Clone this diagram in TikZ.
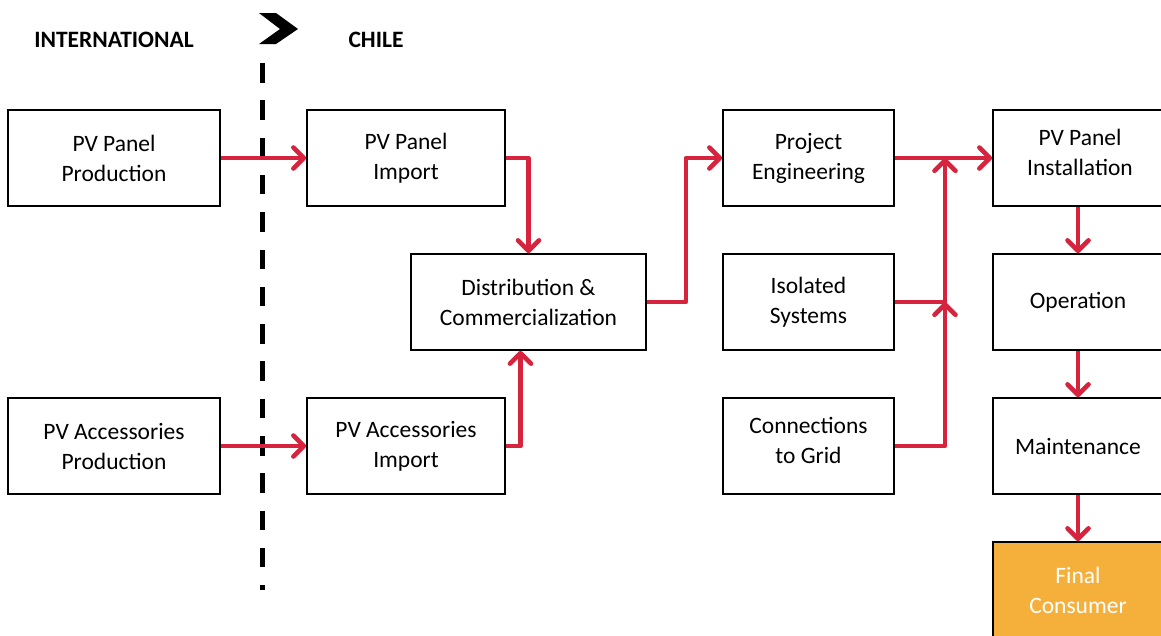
\documentclass[tikz,border=0pt]{standalone}
\usepackage{fontspec}
\setmainfont{Carlito}
\usetikzlibrary{arrows.meta}
\definecolor{arr}{HTML}{D6243F}
\definecolor{fc}{HTML}{F5B03C}
\begin{document}
\begin{tikzpicture}[x=1pt,y=-1pt,
  box/.style={draw, line width=1.7pt, inner sep=0pt, align=center,
    font=\fontsize{23.5}{30}\selectfont},
  lbl/.style={inner sep=0pt, align=center, font=\fontsize{23.5}{30}\selectfont},
  head/.style={inner sep=0pt, font=\fontsize{23.5}{26}\selectfont\bfseries},
  flow/.style={draw=arr, line width=4.6pt, line join=round,
    -{Straight Barb[length=10.5pt,width=21pt,round]}},
]
\useasboundingbox (0,0) rectangle (1161,635);
% headers
\node[head] (intl) at (114,40) {INTERNATIONAL};
\node[head] (chile) at (376,40) {CHILE};
% border marker
\fill (259,13) -- (276,13) -- (298,29) -- (276,44) -- (259,44) -- (280,29) -- cycle;
\draw[line width=5pt, dash pattern=on 19.5pt off 17.8pt] (262,63) -- (262,590);
% boxes
\node[box, minimum width=212pt, minimum height=96pt] (ppp) at (114,158) {PV Panel\\Production};
\node[box, minimum width=212pt, minimum height=96pt] (pap) at (114,446) {PV Accessories\\Production};
\node[box, minimum width=198pt, minimum height=96pt] (ppi) at (406,158) {PV Panel\\Import};
\node[box, minimum width=198pt, minimum height=96pt] (pai) at (406,446) {PV Accessories\\Import};
\node[box, minimum width=235pt, minimum height=96pt] (dist) at (528.5,302) {Distribution \&\\Commercialization};
\node[box, minimum width=171pt, minimum height=96pt] (pe) at (808.5,158) {Project\\Engineering};
\node[box, minimum width=171pt, minimum height=96pt] (iso) at (808.5,302) {Isolated\\Systems};
\node[box, minimum width=171pt, minimum height=96pt] (grid) at (808.5,446) {};
\node[lbl] (gridt) at (808.5,440) {Connections\\to Grid};
\node[box, minimum width=170pt, minimum height=96pt] (inst) at (1078,158) {};
\node[lbl] (instt) at (1080,152) {PV Panel\\Installation};
\node[box, minimum width=170pt, minimum height=96pt] (op) at (1078,302) {Operation};
\node[box, minimum width=170pt, minimum height=96pt] (mt) at (1078,446) {Maintenance};
\node[box, fill=fc, text=white, minimum width=170pt, minimum height=96pt] (fcn) at (1078,590) {Final\\Consumer};
% junctions
\coordinate (j1) at (945,158);
\coordinate (j2) at (945,302);
% connectors
\draw[flow] (ppp.east) -- (ppi.west);
\draw[flow] (pap.east) -- (pai.west);
\draw[flow] (ppi.east) -| (dist.north);
\draw[flow] (pai.east) -| ([xshift=-8pt]dist.south);
\draw[flow] (dist.east) -- ++(39,0) |- (pe.west);
\draw[flow] (pe.east) -- (inst.west);
\draw[flow] (iso.east) -| (j1);
\draw[flow] (grid.east) -| (j2);
\draw[flow] (inst.south) -- (op.north);
\draw[flow] (op.south) -- (mt.north);
\draw[flow] (mt.south) -- (fcn.north);
\end{tikzpicture}
\end{document}
